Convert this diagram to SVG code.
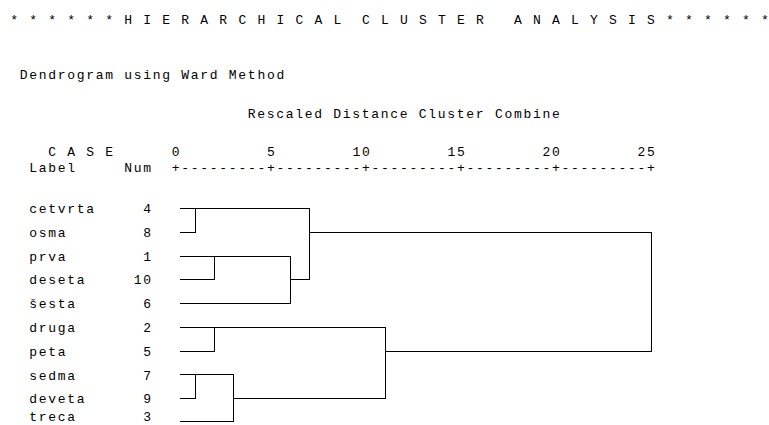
<svg xmlns="http://www.w3.org/2000/svg" width="769" height="425" viewBox="0 0 769 425">
<style>
text{font-family:"Liberation Mono","DejaVu Sans Mono",monospace;font-size:13px;letter-spacing:1.7px;fill:#000;white-space:pre}
.ln{fill:none;stroke:#000;stroke-width:1;shape-rendering:crispEdges}
</style>
<rect width="769" height="425" fill="#fff"/>
<g id="header">
<text x="0.85" y="24" xml:space="preserve"> * * * * * * H I E R A R C H I C A L  C L U S T E R   A N A L Y S I S * * * * * *</text>
<text x="19.85" y="79" xml:space="preserve">Dendrogram using Ward Method</text>
<text x="247.85" y="118" xml:space="preserve">Rescaled Distance Cluster Combine</text>
<text x="0.85" y="156" xml:space="preserve">     C A S E      0         5        10        15        20        25</text>
<text x="0.85" y="172" xml:space="preserve">   Label     Num  +---------+---------+---------+---------+---------+</text>
</g>
<g id="case-4"><text x="29.35" y="213">cetvrta</text><text x="143.35" y="213">4</text></g>
<g id="case-8"><text x="29.35" y="237">osma</text><text x="143.35" y="237">8</text></g>
<g id="case-1"><text x="29.35" y="261">prva</text><text x="143.35" y="261">1</text></g>
<g id="case-10"><text x="29.35" y="284">deseta</text><text x="133.85" y="284">10</text></g>
<g id="case-6"><text x="29.35" y="308">šesta</text><text x="143.35" y="308">6</text></g>
<g id="case-2"><text x="29.35" y="332">druga</text><text x="143.35" y="332">2</text></g>
<g id="case-5"><text x="29.35" y="356">peta</text><text x="143.35" y="356">5</text></g>
<g id="case-7"><text x="29.35" y="380">sedma</text><text x="143.35" y="380">7</text></g>
<g id="case-9"><text x="29.35" y="403">deveta</text><text x="143.35" y="403">9</text></g>
<g id="case-3"><text x="29.35" y="421">treca</text><text x="143.35" y="421">3</text></g>
<g id="connectors">
<path class="ln" d="M180 208.5H309.5M180 232.5H195.5V208.5"/>
<path class="ln" d="M180 256.5H290.5M180 279.5H214.5V256.5"/>
<path class="ln" d="M180 303.5H290.5V256.5M290.5 279.5H309.5"/>
<path class="ln" d="M309.5 208.5V279.5M309.5 232.5H651.5V351.5"/>
<path class="ln" d="M180 327.5H385.5M180 351.5H214.5V327.5"/>
<path class="ln" d="M180 374.5H233.5M180 398.5H195.5V374.5"/>
<path class="ln" d="M180 421.5H233.5V374.5M233.5 398.5H385.5"/>
<path class="ln" d="M385.5 327.5V398.5M385.5 351.5H651.5"/>
</g>
</svg>
